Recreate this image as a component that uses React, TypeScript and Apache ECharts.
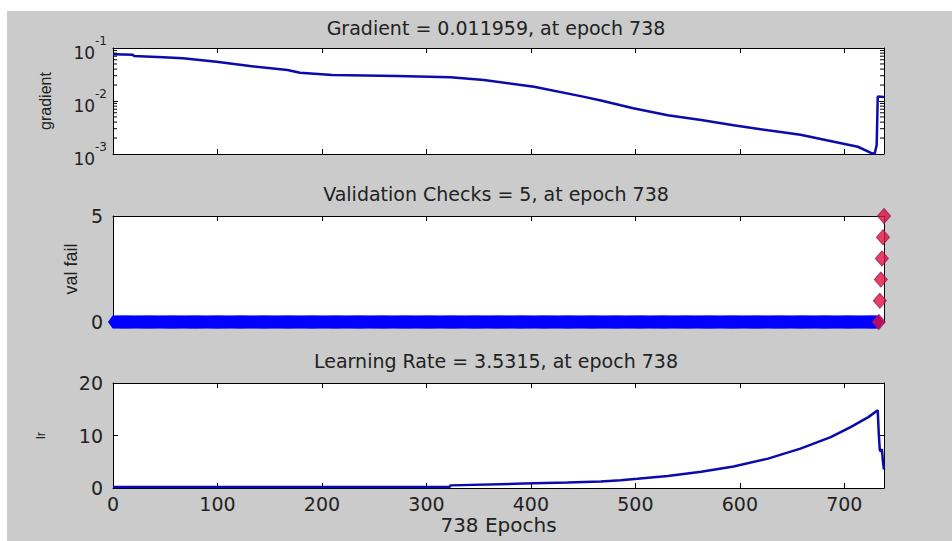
import React, { useEffect, useRef } from "react";
import * as echarts from "echarts";

// Training record: 738 epochs
const EPOCHS = 738;
const xTickValues = [0, 100, 200, 300, 400, 500, 600, 700];

const titles = [
  "Gradient = 0.011959, at epoch 738",
  "Validation Checks = 5, at epoch 738",
  "Learning Rate = 3.5315, at epoch 738",
];

// Gradient (log scale)
const gradEpochs = [0, 19, 20, 48, 67, 99, 131, 167, 179, 210, 272, 323, 355, 403, 450, 467, 486, 498, 531, 563, 594, 627, 658, 690, 713, 725, 729, 731, 732, 738];
const gradValues = [0.076, 0.0745, 0.0707, 0.067, 0.064, 0.055, 0.0457, 0.0385, 0.034, 0.031, 0.0297, 0.028, 0.0249, 0.0186, 0.0121, 0.0102, 0.0083, 0.0073, 0.0054, 0.0044, 0.0035, 0.0028, 0.0023, 0.0017, 0.00137, 0.00106, 0.001, 0.00148, 0.0121, 0.011959];
const gradMajorTicks = [0.001, 0.01, 0.1];
const gradMinorTicks = [0.002, 0.003, 0.004, 0.005, 0.006, 0.007, 0.008, 0.009, 0.02, 0.03, 0.04, 0.05, 0.06, 0.07, 0.08, 0.09];

// Validation checks: zero up to epoch 733, then the failing run
const valFailZeroUntil = 733;
const valFailTailEpochs = [733, 734, 735, 736, 737, 738];
const valFailTailValues = [0, 1, 2, 3, 4, 5];

// Learning rate
const lrEpochs = [0, 322, 323, 393, 435, 467, 486, 502, 531, 563, 594, 627, 658, 687, 706, 723, 732, 733, 734, 735, 736, 737, 738];
const lrValues = [0.2, 0.2, 0.5, 0.84, 1.03, 1.25, 1.47, 1.76, 2.3, 3.1, 4.1, 5.6, 7.5, 9.7, 11.6, 13.5, 14.8, 10.3, 7.2, 7.0, 7.4, 5.0, 3.5315];

const LABEL_FONT = "DejaVu Sans";
const NAME_FONT = "Liberation Sans";
const TEXT_COLOR = "#222";
const LINE_COLOR = "#0b0bab";

function xAxisFor(gridIndex: number, position: "bottom" | "top", showLabels: boolean, name?: string) {
  return {
    type: "value",
    gridIndex,
    position,
    min: 0,
    max: EPOCHS,
    name: name ?? "",
    nameLocation: "middle",
    nameGap: 27,
    nameTextStyle: { fontFamily: LABEL_FONT, fontSize: 20, color: TEXT_COLOR },
    axisLine: { show: true, onZero: false, lineStyle: { color: "#000", width: 1 } },
    axisTick: { show: true, inside: true, length: 5, customValues: xTickValues, lineStyle: { color: "#000" } },
    axisLabel: {
      show: showLabels,
      customValues: xTickValues,
      margin: 6,
      fontFamily: LABEL_FONT,
      fontSize: 19,
      color: TEXT_COLOR,
    },
    splitLine: { show: false },
  };
}

function yAxisFor(gridIndex: number, position: "left" | "right", extra: any) {
  const isLeft = position === "left";
  return {
    gridIndex,
    position,
    nameLocation: "middle",
    nameRotate: 90,
    axisLine: { show: true, onZero: false, lineStyle: { color: "#000", width: 1 } },
    axisTick: { show: true, inside: true, length: 5, lineStyle: { color: "#000" } },
    splitLine: { show: false },
    ...extra,
    axisLabel: { show: isLeft, fontFamily: LABEL_FONT, fontSize: 19, color: TEXT_COLOR, margin: 10, ...(extra.axisLabel || {}) },
  };
}

export default function App() {
  const ref = useRef<HTMLDivElement>(null);

  useEffect(() => {
    if (!ref.current) return;
    const chart = echarts.init(ref.current, null, { renderer: "svg" });

    const gradData = gradEpochs.map((e, i) => [e, gradValues[i]]);
    const lrData = lrEpochs.map((e, i) => [e, lrValues[i]]);
    const valFailZeros = Array.from({ length: valFailZeroUntil + 1 }, (_, e) => [e, 0]);
    const valFailTail = valFailTailEpochs.map((e, i) => [e, valFailTailValues[i]]);

    const logAxis = (name: string) => ({
      type: "log",
      logBase: 10,
      min: gradMajorTicks[0],
      max: gradMajorTicks[gradMajorTicks.length - 1],
      name,
      nameGap: 60,
      nameTextStyle: { fontFamily: NAME_FONT, fontSize: 16, color: TEXT_COLOR },
      axisLabel: {
        margin: 6,
        formatter: (v: number) => `{b|10}{s|${Math.round(Math.log10(v))}}`,
        rich: {
          b: { fontFamily: LABEL_FONT, fontSize: 17, color: TEXT_COLOR, lineHeight: 26, verticalAlign: "bottom" },
          s: { fontFamily: LABEL_FONT, fontSize: 12, color: TEXT_COLOR, verticalAlign: "top" },
        },
      },
    });

    const titleTops = [7, 173, 340];

    const option: any = {
      animation: false,
      backgroundColor: "#cbcbcb",
      grid: [
        { left: 106, top: 37, width: 771, height: 106 },
        { left: 106, top: 205, width: 771, height: 106 },
        { left: 106, top: 372, width: 771, height: 105 },
      ].map((g) => ({ ...g, show: true, backgroundColor: "#fff", borderWidth: 0 })),
      graphic: titles.map((t, i) => ({
        type: "text",
        x: 489,
        y: titleTops[i],
        style: {
          text: t,
          align: "center",
          verticalAlign: "top",
          fontFamily: LABEL_FONT,
          fontSize: 19,
          fill: TEXT_COLOR,
        },
      })),
      xAxis: [
        xAxisFor(0, "bottom", false),
        xAxisFor(0, "top", false),
        xAxisFor(1, "bottom", false),
        xAxisFor(1, "top", false),
        xAxisFor(2, "bottom", true, `${EPOCHS} Epochs`),
        xAxisFor(2, "top", false),
      ],
      yAxis: [
        yAxisFor(0, "left", logAxis("gradient")),
        yAxisFor(0, "right", { ...logAxis(""), axisLabel: { show: false } }),
        yAxisFor(1, "left", {
          type: "value", min: 0, max: 5, interval: 5, name: "val fail", nameGap: 32,
          nameTextStyle: { fontFamily: NAME_FONT, fontSize: 18, color: TEXT_COLOR },
        }),
        yAxisFor(1, "right", { type: "value", min: 0, max: 5, interval: 5 }),
        yAxisFor(2, "left", {
          type: "value", min: 0, max: 20, interval: 10, name: "lr", nameGap: 66,
          nameTextStyle: { fontFamily: NAME_FONT, fontSize: 13, color: TEXT_COLOR },
        }),
        yAxisFor(2, "right", { type: "value", min: 0, max: 20, interval: 10 }),
      ],
      series: [
        {
          type: "line",
          xAxisIndex: 0,
          yAxisIndex: 0,
          data: gradData,
          showSymbol: false,
          lineStyle: { color: LINE_COLOR, width: 2.5 },
          z: 3,
        },
        {
          // log-scale minor ticks on both sides of the gradient panel
          type: "custom",
          xAxisIndex: 0,
          yAxisIndex: 0,
          data: gradMinorTicks.map((v) => [0, v]),
          clip: false,
          silent: true,
          z: 4,
          renderItem: (_params: any, api: any) => {
            const v = api.value(1);
            const l = api.coord([0, v]);
            const r = api.coord([EPOCHS, v]);
            const style = { stroke: "#000", lineWidth: 1 };
            return {
              type: "group",
              children: [
                { type: "line", shape: { x1: l[0], y1: l[1], x2: l[0] + 4, y2: l[1] }, style },
                { type: "line", shape: { x1: r[0] - 4, y1: r[1], x2: r[0], y2: r[1] }, style },
              ],
            };
          },
        },
        {
          type: "line",
          xAxisIndex: 2,
          yAxisIndex: 2,
          data: valFailZeros,
          symbol: "diamond",
          symbolSize: [10, 14],
          showSymbol: true,
          showAllSymbol: true,
          clip: false,
          itemStyle: { color: "#0000ff" },
          lineStyle: { color: "#0000ff", width: 1 },
          z: 3,
        },
        {
          type: "scatter",
          xAxisIndex: 2,
          yAxisIndex: 2,
          data: valFailTail,
          symbol: "diamond",
          symbolSize: [13, 15],
          clip: false,
          itemStyle: { color: "#e0103f", borderColor: "#9a1858", borderWidth: 1 },
          z: 5,
        },
        {
          type: "line",
          xAxisIndex: 4,
          yAxisIndex: 4,
          data: lrData,
          showSymbol: false,
          lineStyle: { color: LINE_COLOR, width: 2.5 },
          z: 3,
        },
      ],
    };

    chart.setOption(option);
    return () => chart.dispose();
  }, []);

  return (
    <div style={{ position: "fixed", left: 0, top: 0, width: 952, height: 541, background: "#fff" }}>
      <div ref={ref} style={{ position: "absolute", left: 7, top: 11, width: 945, height: 530 }} />
    </div>
  );
}
